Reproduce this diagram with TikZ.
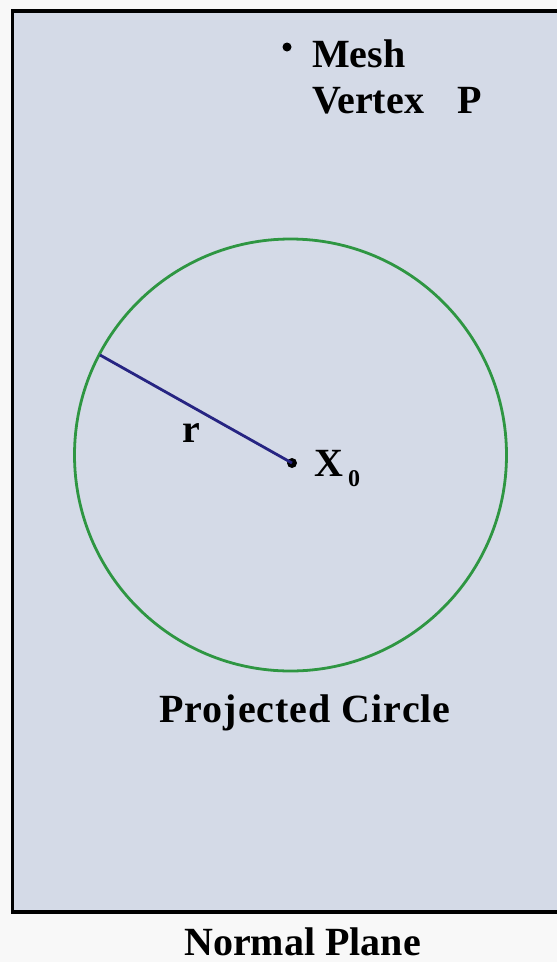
\documentclass[tikz,border=0pt]{standalone}
\usepackage{fontspec}
\setmainfont{Liberation Serif}
\definecolor{plane}{RGB}{212,218,231}
\definecolor{paper}{RGB}{248,248,248}
\definecolor{circgreen}{RGB}{46,150,66}
\definecolor{radblue}{RGB}{38,36,130}
\begin{document}
\begin{tikzpicture}[x=1pt,y=-1pt,
  lbl/.style={inner sep=0pt, font=\fontsize{40}{46}\selectfont\bfseries, text=black},
  dotmark/.style={circle, fill=black, inner sep=0pt, minimum size=10pt}]
\useasboundingbox (0,0) rectangle (557,962);
\clip (0,0) rectangle (557,962);
\fill[paper] (0,0) rectangle (557,962);
% plane
\fill[plane] (12.5,11) rectangle (580,912);
\draw[line width=3.5pt, line join=miter] (580,11) -- (12.5,11) -- (12.5,912) -- (580,912);
% circle
\coordinate (C) at (290.5,455);
\draw[circgreen, line width=2.8pt] (C) circle[radius=216];
% radius
\coordinate (R) at (100,355);
\node[dotmark] (X) at (292,463) {};
\draw[radblue, line width=2.8pt] (R) -- (X.center);
\node[dotmark, minimum size=9pt] (P) at (287,47) {};
% labels
\node[lbl, anchor=base west] (mesh) at (312,67) {Mesh};
\node[lbl, anchor=base west] (vert) at (312,113) {Vertex};
\node[lbl, anchor=base west] (pp) at (457,113) {P};
\node[lbl, anchor=base west] (rl) at (182,442) {r};
\node[lbl, anchor=base west] (xl) at (314,476) {X};
\node[inner sep=0pt, anchor=base west, font=\fontsize{24}{26}\selectfont\bfseries] (xs) at (348,486) {0};
\node[lbl, anchor=base, font=\fontsize{40}{46}\selectfont\bfseries\addfontfeature{LetterSpace=2.5}] (pc) at (305,722) {Projected Circle};
\node[lbl, anchor=base] (np) at (302.5,955) {Normal Plane};
\end{tikzpicture}
\end{document}
